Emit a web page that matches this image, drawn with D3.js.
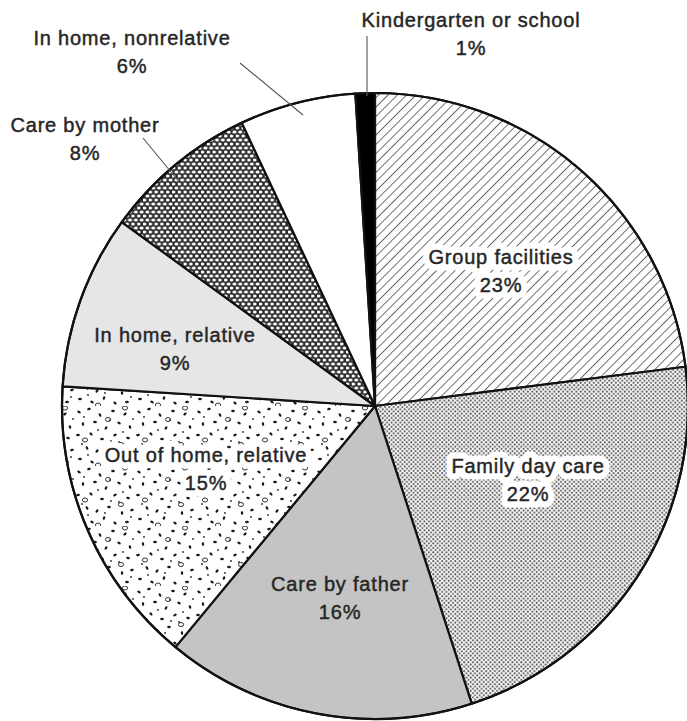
<!DOCTYPE html>
<html>
<head>
<meta charset="utf-8">
<script src="https://cdn.jsdelivr.net/npm/d3@7"></script>
<style>
  html, body { margin: 0; padding: 0; background: #fff; }
  svg { display: block; }
</style>
</head>
<body>
<script>
// Child-care arrangements, share of children (%)
const categories = [
  "Group facilities",
  "Family day care",
  "Care by father",
  "Out of home, relative",
  "In home, relative",
  "Care by mother",
  "In home, nonrelative",
  "Kindergarten or school"
];
const shares = [23, 22, 16, 15, 9, 8, 6, 1];

// Fill for each slice (pattern ids or plain colours), in category order
const fills = [
  "url(#hatch)", "url(#dots)", "#c4c4c4", "url(#speckle)",
  "#e6e6e6", "url(#mesh)", "#ffffff", "#000000"
];
// Whether a label needs a white knock-out behind it
const halo = [true, true, false, true, false, false, false, false];

// Label placement: centre x and first baseline y
const labelLayout = [
  [501, 264], [528, 473], [340, 591], [206, 462],
  [175, 342], [85, 132], [132, 45], [471, 27]
];
// Leader lines for labels set outside the pie
const leaders = [
  { i: 7, from: [367, 36], to: [367, 96] },
  { i: 6, from: [240, 63], to: [303, 115] },
  { i: 5, from: [143, 138], to: [180, 183] }
];

const W = 687, H = 721;
const cx = 375, cy = 406, R = 313;

const svg = d3.select("body").append("svg")
  .attr("width", W).attr("height", H);

const defs = svg.append("defs");

// Diagonal hatch
const hatch = defs.append("pattern")
  .attr("id", "hatch").attr("patternUnits", "userSpaceOnUse")
  .attr("width", 6.6).attr("height", 6.6)
  .attr("patternTransform", "rotate(45)");
hatch.append("rect").attr("width", 6.6).attr("height", 6.6).attr("fill", "#fff");
hatch.append("line").attr("x1", 0).attr("y1", 0).attr("x2", 0).attr("y2", 6.6)
  .attr("stroke", "#3a3a3a").attr("stroke-width", 1.45);

// Fine dot screen
const dots = defs.append("pattern")
  .attr("id", "dots").attr("patternUnits", "userSpaceOnUse")
  .attr("width", 4.4).attr("height", 4.4);
dots.append("rect").attr("width", 4.4).attr("height", 4.4).attr("fill", "#fafafa");
[[1.1, 1.1], [3.3, 3.3]].forEach(([x, y]) =>
  dots.append("circle").attr("cx", x).attr("cy", y).attr("r", 1.02).attr("fill", "#555"));

// Dark mesh with oval openings
const mesh = defs.append("pattern")
  .attr("id", "mesh").attr("patternUnits", "userSpaceOnUse")
  .attr("width", 5.8).attr("height", 8);
mesh.append("rect").attr("width", 5.8).attr("height", 8).attr("fill", "#2b2b2b");
[[1.45, 2], [4.35, 6], [-1.45, 6], [7.25, 6], [1.45, 10], [1.45, -2]].forEach(([x, y]) =>
  mesh.append("ellipse").attr("cx", x).attr("cy", y).attr("rx", 2.0).attr("ry", 1.5).attr("fill", "#fff"));

// Speckled texture: flecks and small rings
const speckle = defs.append("pattern")
  .attr("id", "speckle").attr("patternUnits", "userSpaceOnUse")
  .attr("width", 60).attr("height", 60);
speckle.append("rect").attr("width", 60).attr("height", 60).attr("fill", "#fff");
const flecks = [
  [4, 6, 30], [14, 3, -20], [25, 9, 60], [38, 5, 10], [50, 8, -40],
  [8, 18, 80], [20, 16, 0], [31, 22, -60], [44, 17, 30], [55, 21, 70],
  [3, 29, -10], [16, 28, 45], [27, 33, 0], [40, 29, -30], [53, 32, 20],
  [12, 42, 60], [22, 45, -50], [34, 41, 10], [47, 47, 80], [57, 44, -20],
  [5, 53, 0], [17, 56, 30], [29, 52, -70], [40, 57, 40], [52, 56, 0]
];
flecks.forEach(([x, y, a]) =>
  speckle.append("ellipse").attr("cx", x).attr("cy", y).attr("rx", 1.9).attr("ry", 1.2)
    .attr("transform", `rotate(${a},${x},${y})`).attr("fill", "#1a1a1a"));
[[9, 11], [35, 14], [48, 26], [23, 24], [7, 38], [44, 36], [30, 47], [56, 51], [13, 49], [58, 13], [36, 35]]
  .forEach(([x, y]) => speckle.append("circle").attr("cx", x).attr("cy", y).attr("r", 0.9).attr("fill", "#2a2a2a"));
[[33, 13.5], [10, 34], [46, 38.5], [23, 59], [50, 2]].forEach(([x, y]) =>
  speckle.append("ellipse").attr("cx", x).attr("cy", y).attr("rx", 2.6).attr("ry", 2.0)
    .attr("fill", "none").attr("stroke", "#333").attr("stroke-width", 1.0));

// Pie layout, clockwise from twelve o'clock, in the given order
const pie = d3.pie().sort(null).value(d => d)(shares);
const arc = d3.arc().innerRadius(0).outerRadius(R);

const g = svg.append("g").attr("transform", `translate(${cx},${cy})`);

g.selectAll("path.slice")
  .data(pie)
  .join("path")
  .attr("class", "slice")
  .attr("d", arc)
  .attr("fill", (d, i) => fills[i])
  .attr("stroke", "#111")
  .attr("stroke-width", 2.2)
  .attr("stroke-linejoin", "round");

g.append("circle").attr("r", R).attr("fill", "none")
  .attr("stroke", "#111").attr("stroke-width", 2.2);

// Leader lines
svg.selectAll("line.leader")
  .data(leaders)
  .join("line")
  .attr("class", "leader")
  .attr("x1", d => d.from[0]).attr("y1", d => d.from[1])
  .attr("x2", d => d.to[0]).attr("y2", d => d.to[1])
  .attr("stroke", "#555").attr("stroke-width", 1.1);

// Labels: name on the first line, share on the second
const lab = svg.selectAll("g.label")
  .data(categories.map((c, i) => ({ name: c, value: shares[i], i })))
  .join("g").attr("class", "label");

const font = "'Liberation Sans', Arial, Helvetica, sans-serif";

function addText(sel, textFn, dy) {
  sel.each(function (d) {
    const [x, y] = labelLayout[d.i];
    const grp = d3.select(this);
    const place = t => t.attr("x", x).attr("y", y + dy)
      .attr("text-anchor", "middle")
      .attr("font-family", font)
      .attr("font-size", 20)
      .attr("letter-spacing", "0.8px")
      .text(textFn(d));
    if (halo[d.i]) {
      place(grp.insert("text", ":first-child"))
        .attr("fill", "#fff").attr("stroke", "#fff").attr("stroke-width", 13)
        .attr("stroke-linejoin", "round");
    }
    place(grp.append("text"))
      .attr("fill", "#262626")
      .attr("stroke", "#262626").attr("stroke-width", 0.45);
  });
}
addText(lab, d => d.name, 0);
addText(lab, d => d.value + "%", 28);
</script>
</body>
</html>
